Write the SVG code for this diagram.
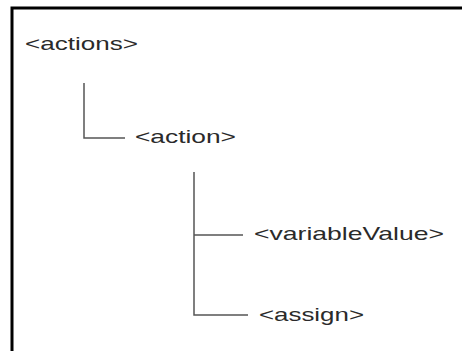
<svg xmlns="http://www.w3.org/2000/svg" width="462" height="351" viewBox="0 0 462 351">
  <style>
    .frame { fill: none; stroke: #000; stroke-width: 3; }
    .link { fill: none; stroke: #555; stroke-width: 1.5; }
    .tag { font-family: "Liberation Sans", Arial, sans-serif; font-size: 19px; fill: #2a2a2a; }
  </style>
  <rect x="0" y="0" width="462" height="351" fill="#fff"/>
  <!-- frame: top and left edges -->
  <path class="frame" d="M12 351 V8 H462"/>
  <g id="connectors">
    <path class="link" d="M84 83 V138 H125"/>
    <path class="link" d="M194 172 V315 H248"/>
    <path class="link" d="M194 235 H243"/>
  </g>
  <g id="actions">
    <text class="tag" x="25" y="50" textLength="113" lengthAdjust="spacingAndGlyphs">&lt;actions&gt;</text>
  </g>
  <g id="action">
    <text class="tag" x="135" y="143" textLength="101" lengthAdjust="spacingAndGlyphs">&lt;action&gt;</text>
  </g>
  <g id="variableValue">
    <text class="tag" x="254" y="240" textLength="190" lengthAdjust="spacingAndGlyphs">&lt;variableValue&gt;</text>
  </g>
  <g id="assign">
    <text class="tag" x="259" y="321" textLength="105" lengthAdjust="spacingAndGlyphs">&lt;assign&gt;</text>
  </g>
</svg>
